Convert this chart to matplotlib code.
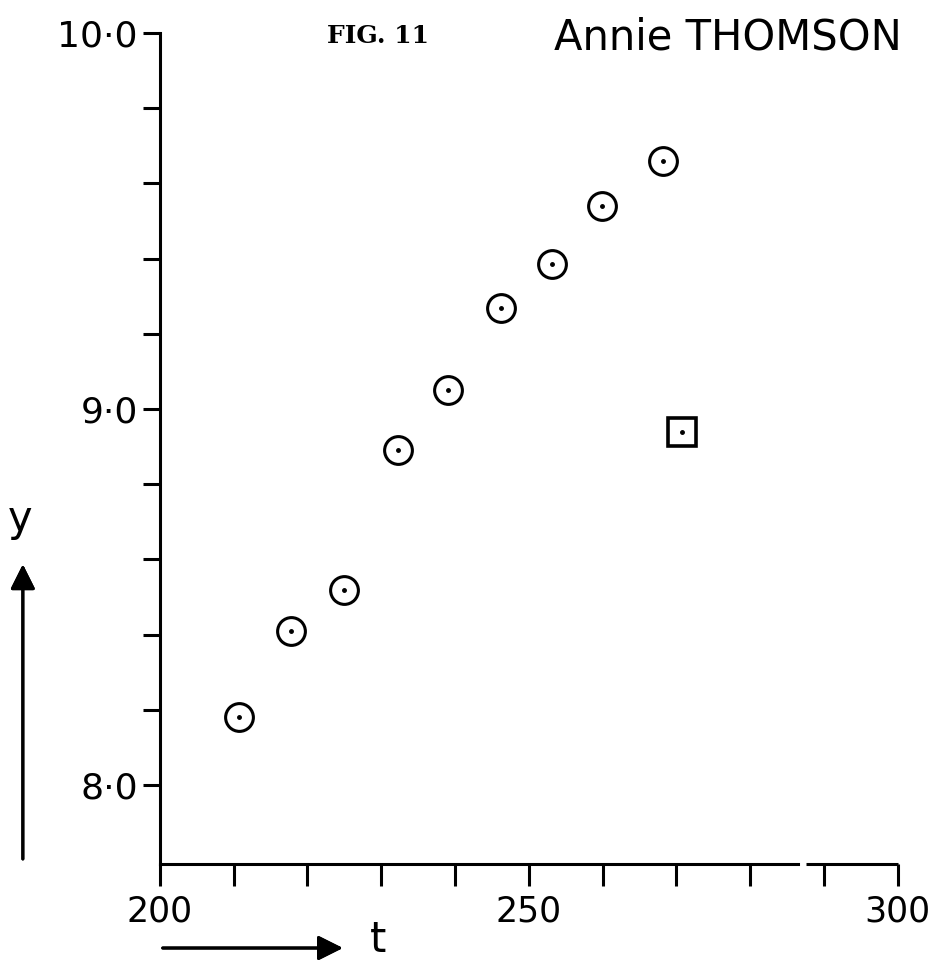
import matplotlib
matplotlib.use("Agg")
import matplotlib.pyplot as plt

# circles: observations, square: the odd one out
t_obs = [210.7, 217.7, 224.9, 232.2, 239.1, 246.2, 253.2, 259.9, 268.2]
y_obs = [8.18, 8.41, 8.52, 8.89, 9.05, 9.27, 9.385, 9.54, 9.66]
t_sq = [270.7]
y_sq = [8.94]

x_major = [200, 250, 300]
x_labels = ['200', '250', '300']
y_major = [8.0, 9.0, 10.0]
y_labels = ['8·0', '9·0', '10·0']

plt.rcParams['font.family'] = ['DejaVu Sans']

fig = plt.figure(figsize=(9.52, 9.65), dpi=100)
ax = fig.add_axes([0.168, 0.1047, 0.775, 0.861])

lw = 2.2
ax.plot(t_obs, y_obs, 'o', ms=20, mfc='white', mec='black', mew=lw, clip_on=False)
ax.plot(t_obs, y_obs, '.', ms=5, color='black')
ax.plot(t_sq, y_sq, 's', ms=20, mfc='white', mec='black', mew=lw + 0.4)
ax.plot(t_sq, y_sq, '.', ms=5, color='black')

ax.set_xlim(200, 300)
ax.set_ylim(7.79, 10.0)

ax.set_xticks(x_major)
ax.set_xticklabels(x_labels, fontsize=25)
ax.set_xticks(range(210, 300, 10), minor=True)
ax.set_yticks(y_major)
ax.set_yticklabels(y_labels, fontsize=26)
ax.set_yticks([8.2, 8.4, 8.6, 8.8, 9.2, 9.4, 9.6, 9.8], minor=True)

ax.tick_params(axis='x', which='both', direction='out', length=16, width=lw, pad=6)
ax.tick_params(axis='y', which='both', direction='out', length=12, width=lw, pad=4)

for s in ['top', 'right']:
    ax.spines[s].set_visible(False)
for s in ['left', 'bottom']:
    ax.spines[s].set_linewidth(lw)
# small break in the hand-drawn baseline
ax.spines['bottom'].set_bounds(200, 286.5)
ax.plot([287.6, 300], [7.79, 7.79], color='black', lw=lw, clip_on=False,
        solid_capstyle='butt')

fig.text(0.397, 0.963, 'FIG. 11', family='DejaVu Serif', weight='bold',
         fontsize=18, ha='center', va='center')
fig.text(0.765, 0.961, 'Annie THOMSON', fontsize=30, ha='center', va='center')

# axis arrows
style = '-|>,head_length=1.5,head_width=0.75'
fig.add_artist(plt.annotate('', xy=(0.024, 0.418), xytext=(0.024, 0.107),
                            xycoords='figure fraction',
                            arrowprops=dict(arrowstyle=style, lw=lw, color='black')))
fig.text(0.021, 0.462, 'y', fontsize=30, ha='center', va='center')
fig.add_artist(plt.annotate('', xy=(0.363, 0.0176), xytext=(0.168, 0.0176),
                            xycoords='figure fraction',
                            arrowprops=dict(arrowstyle=style, lw=lw, color='black')))
fig.text(0.397, 0.026, 't', fontsize=30, ha='center', va='center')

fig.savefig('out.png', dpi=100, facecolor='white')
